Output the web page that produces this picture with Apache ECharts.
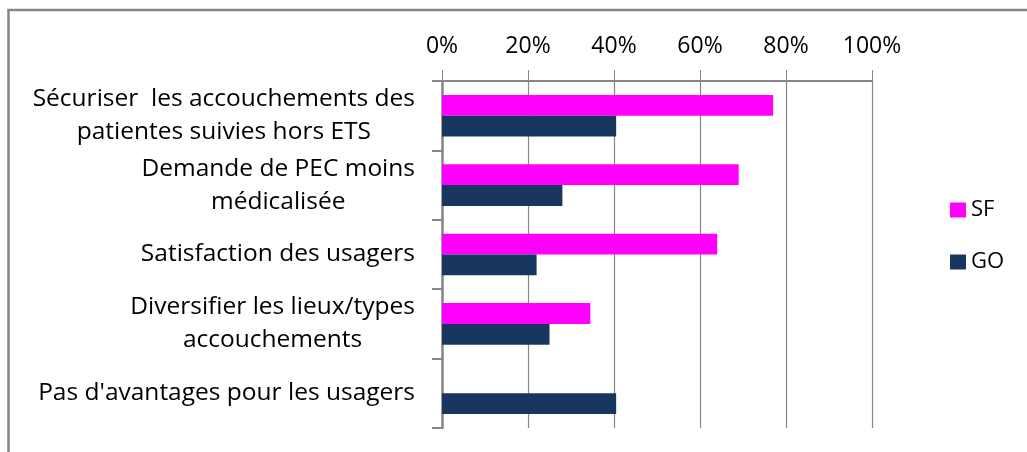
<!DOCTYPE html>
<html>
<head>
<meta charset="utf-8">
<script src="https://cdn.jsdelivr.net/npm/echarts@6/dist/echarts.min.js"></script>
<style>
  html, body { margin: 0; padding: 0; background: #fff; }
  #chart { width: 1027px; height: 452px; }
</style>
</head>
<body>
<div id="chart"></div>
<script>
const categories = [
  'Sécuriser  les accouchements des\npatientes suivies hors ETS',
  'Demande de PEC moins\nmédicalisée',
  'Satisfaction des usagers',
  'Diversifier les lieux/types\naccouchements',
  "Pas d'avantages pour les usagers"
];
const sfValues = [77, 69, 64, 34.5, 0];
const goValues = [40.5, 28, 22, 25, 40.5];
const xTicks = [0, 20, 40, 60, 80, 100];

const FONT = 'Open Sans';
const AXIS_GRAY = '#868686';

const chart = echarts.init(document.getElementById('chart'));

const option = {
  animation: false,
  backgroundColor: '#fff',
  textStyle: { fontFamily: FONT },
  graphic: [
    {
      type: 'rect',
      shape: { x: 8.5, y: 10, width: 1040, height: 470 },
      style: { fill: 'none', stroke: AXIS_GRAY, lineWidth: 2.5 },
      silent: true
    }
  ],
  legend: {
    orient: 'vertical',
    left: 945,
    top: 194,
    itemWidth: 16,
    itemHeight: 15,
    itemGap: 30,
    icon: 'rect',
    textStyle: { fontSize: 22, color: '#000', fontFamily: FONT },
    data: ['SF', 'GO']
  },
  grid: {
    left: 442,
    right: 155,
    top: 81,
    bottom: 24
  },
  xAxis: {
    type: 'value',
    position: 'top',
    min: xTicks[0],
    max: xTicks[xTicks.length - 1],
    interval: 20,
    axisLine: { show: true, lineStyle: { color: AXIS_GRAY, width: 2 } },
    axisTick: { show: true, length: 11, lineStyle: { color: AXIS_GRAY, width: 1 } },
    splitLine: { show: true, lineStyle: { color: AXIS_GRAY, width: 1.2 } },
    axisLabel: {
      formatter: '{value}%',
      fontSize: 23,
      color: '#000',
      margin: 23
    }
  },
  yAxis: {
    type: 'category',
    inverse: true,
    data: categories,
    axisLine: { show: true, lineStyle: { color: AXIS_GRAY, width: 2.5 } },
    axisTick: { show: true, length: 10, lineStyle: { color: AXIS_GRAY, width: 2 } },
    axisLabel: {
      margin: 27,
      color: '#000',
      formatter: v => v.split('\n').map(l => '{c|' + l + '}').join('\n'),
      rich: {
        c: { align: 'center', fontSize: 24.5, lineHeight: 33, color: '#000', fontFamily: FONT }
      }
    }
  },
  series: [
    {
      name: 'SF',
      type: 'bar',
      data: sfValues,
      itemStyle: { color: '#FF00FF' },
      barGap: 0,
      barCategoryGap: '40%'
    },
    {
      name: 'GO',
      type: 'bar',
      data: goValues,
      itemStyle: { color: '#17375E' },
      barGap: 0,
      barCategoryGap: '40%'
    }
  ]
};

chart.setOption(option);
</script>
</body>
</html>
